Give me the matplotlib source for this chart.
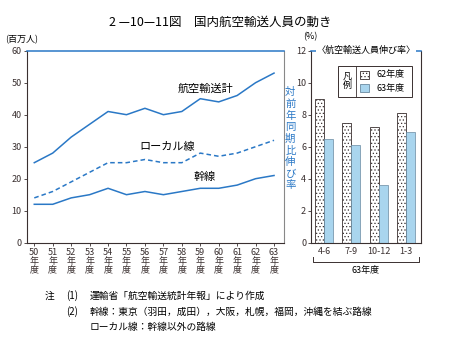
import matplotlib
matplotlib.use("Agg")
import matplotlib.pyplot as plt
from matplotlib.patches import Rectangle
import numpy as np

plt.rcParams['font.family'] = ['Noto Sans CJK JP', 'DejaVu Sans']
plt.rcParams['hatch.linewidth'] = 0.5

# 国内航空輸送人員 (百万人)
years = [50, 51, 52, 53, 54, 55, 56, 57, 58, 59, 60, 61, 62, 63]
total = [25, 28, 33, 37, 41, 40, 42, 40, 41, 45, 44, 46, 50, 53]
local = [14, 16, 19, 22, 25, 25, 26, 25, 25, 28, 27, 28, 30, 32]
trunk = [12, 12, 14, 15, 17, 15, 16, 15, 16, 17, 17, 18, 20, 21]

# 航空輸送人員伸び率 (%)
quarters = ['4-6', '7-9', '10-12', '1-3']
growth_62 = [9.0, 7.5, 7.2, 8.1]
growth_63 = [6.5, 6.1, 3.6, 6.9]

blue = '#2a78c6'
lightblue = '#a9d5ee'
dark = '#3a3030'

fig = plt.figure(figsize=(4.49, 3.47), dpi=100)

fig.text(0.49, 0.937, '2 —10—11図　国内航空輸送人員の動き', ha='center', va='center', fontsize=9)

# ---- left: line chart
ax = fig.add_axes([0.0595, 0.3006, 0.573, 0.5533])
ax.plot(years, total, color=blue, lw=1.1)
ax.plot(years, local, color=blue, lw=1.1, ls=(0, (3, 2)))
ax.plot(years, trunk, color=blue, lw=1.1)
ax.set_xlim(49.59, 63.54)
ax.set_ylim(0, 60)
ax.set_yticks(range(0, 61, 10))
ax.set_xticks(years)
ax.set_xticklabels(['%d\n年\n度' % y for y in years], linespacing=0.95)
ax.tick_params(axis='both', labelsize=6.5, length=2, width=0.6, pad=1.5, colors=dark)
ax.tick_params(axis='x', pad=2)
for s in ['left', 'bottom', 'right']:
    ax.spines[s].set_color(dark)
    ax.spines[s].set_linewidth(0.8)
ax.spines['right'].set_color('#888888')
ax.spines['top'].set_color(blue)
ax.spines['top'].set_linewidth(1.1)

ax.text(59.3, 48, '航空輸送計', fontsize=8, ha='center', va='center')
ax.text(57.2, 29.9, 'ローカル線', fontsize=8, ha='center', va='center')
ax.text(59.26, 20.5, '幹線', fontsize=8, ha='center', va='center')
fig.text(0.012, 0.885, '(百万人)', fontsize=6.5, ha='left', va='center')

fig.text(0.6465, 0.6, '\n'.join('対前年同期比伸び率'), fontsize=7.5, color=blue,
         ha='center', va='center', linespacing=1.2)

# ---- right: bar chart
bx = fig.add_axes([0.6927, 0.3006, 0.2443, 0.5533])
x = np.arange(len(quarters))
w = 0.33
bx.bar(x - w / 2, growth_62, w, facecolor='white', edgecolor=dark, hatch='.....', lw=0.6)
bx.bar(x + w / 2, growth_63, w, facecolor=lightblue, edgecolor='#6a8aa0', lw=0.5)
bx.set_xlim(-0.476, 3.54)
bx.set_ylim(0, 12)
bx.set_yticks(range(0, 13, 2))
bx.set_xticks(x)
bx.set_xticklabels(quarters)
bx.tick_params(axis='y', labelsize=6.5, length=2, width=0.6, pad=1.5, colors=dark)
bx.tick_params(axis='x', labelsize=6.5, length=0, pad=3, colors=dark)
for s in ['left', 'bottom', 'right']:
    bx.spines[s].set_color(dark)
    bx.spines[s].set_linewidth(0.8)
bx.spines['top'].set_color(blue)
bx.spines['top'].set_linewidth(1.1)
fig.text(0.674, 0.893, '(%)', fontsize=6.5, ha='left', va='center')
bx.text(0.5, 1.0, '〈航空輸送人員伸び率〉', transform=bx.transAxes, fontsize=6.5,
        ha='center', va='center', bbox=dict(facecolor='white', edgecolor='none', pad=0.5))

# legend box
bx.add_patch(Rectangle((0.246, 0.761), 0.674, 0.161, transform=bx.transAxes,
                       facecolor='white', edgecolor=dark, lw=0.7, zorder=5))
bx.plot([0.41, 0.41], [0.761, 0.922], transform=bx.transAxes, color=dark, lw=0.6, zorder=6)
bx.text(0.33, 0.842, '凡\n例', transform=bx.transAxes, fontsize=6.5, ha='center',
        va='center', linespacing=1.1, zorder=6)
bx.add_patch(Rectangle((0.45, 0.855), 0.075, 0.04, transform=bx.transAxes, facecolor='white',
                       edgecolor=dark, hatch='.....', lw=0.6, zorder=6))
bx.add_patch(Rectangle((0.45, 0.785), 0.075, 0.04, transform=bx.transAxes, facecolor=lightblue,
                       edgecolor='#6a8aa0', lw=0.6, zorder=6))
bx.text(0.6, 0.875, '62年度', transform=bx.transAxes, fontsize=6.5, ha='left', va='center', zorder=6)
bx.text(0.6, 0.805, '63年度', transform=bx.transAxes, fontsize=6.5, ha='left', va='center', zorder=6)

# bracket under the quarters
yb = 1 - 261.5 / 347
yt = 1 - 256.5 / 347
x0, x1 = 313 / 449, 419 / 449
fig.add_artist(plt.Line2D([x0, x0, x1, x1], [yt, yb, yb, yt], color=dark, lw=0.7))
fig.text(366 / 449, 1 - 270 / 347, '63年度', fontsize=6.5, ha='center', va='center')

# notes
fig.text(45 / 449, 1 - 296 / 347, '注', fontsize=7, ha='left', va='center')
fig.text(66 / 449, 1 - 296 / 347, '(1)', fontsize=7, ha='left', va='center')
fig.text(90 / 449, 1 - 296 / 347, '運輸省「航空輸送統計年報」により作成', fontsize=7, ha='left', va='center')
fig.text(66 / 449, 1 - 312 / 347, '(2)', fontsize=7, ha='left', va='center')
fig.text(90 / 449, 1 - 312 / 347, '幹線：東京（羽田，成田），大阪，札幌，福岡，沖縄を結ぶ路線',
         fontsize=7, ha='left', va='center')
fig.text(90 / 449, 1 - 327 / 347, 'ローカル線：幹線以外の路線', fontsize=7, ha='left', va='center')

fig.savefig('out.png', dpi=100)
